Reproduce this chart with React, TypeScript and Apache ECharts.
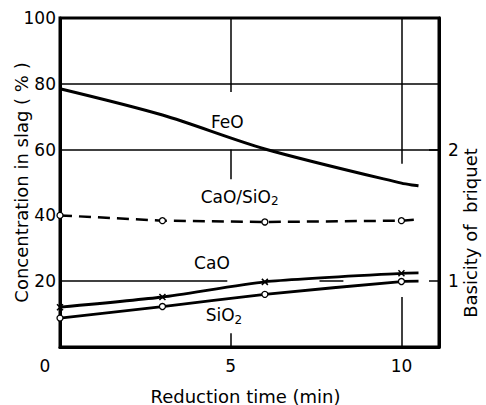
import React, { useEffect, useRef } from "react";
import * as echarts from "echarts";

const xTicks = [5, 10];
const timePts = [0, 3, 6, 10, 10.5];
const feoVals = [78.5, 70.5, 60.2, 49.8, 49.0];
const ratioVals = [1.5, 1.46, 1.45, 1.46, 1.47];
const caoVals = [12.1, 15.2, 19.8, 22.4, 22.5];
const sio2Vals = [8.8, 12.3, 16.0, 19.9, 20.0];
const basicityLabels = [1, 2];

const FONT = "DejaVu Sans";

function pts(vals: number[], symbol: any) {
  return vals.map((v, i) =>
    i === vals.length - 1
      ? { value: [timePts[i], v], symbol: "none" }
      : { value: [timePts[i], v], symbol }
  );
}

const seg = (a: number[], b: number[]) => [{ coord: a }, { coord: b }];

export default function App() {
  const ref = useRef<HTMLDivElement>(null);
  useEffect(() => {
    document.body.style.margin = "0";
    const chart = echarts.init(ref.current!, undefined, { renderer: "svg" });
    const lbl = (coord: number[], text: string, offset: number[] = [0, 0]) => ({
      coord,
      symbol: "circle",
      symbolSize: 0,
      label: {
        show: true,
        position: "inside",
        offset,
        formatter: text,
        color: "#000",
        fontFamily: FONT,
        fontSize: 17,
        rich: {
          s: { fontSize: 12, fontFamily: FONT, color: "#000", padding: [9, 0, 0, 0] },
        },
      },
    });
    const xMark = "path://M0,0L10,10M10,0L0,10";
    chart.setOption({
      animation: false,
      grid: {
        left: 60,
        right: 47,
        top: 18,
        bottom: 58,
        outerBoundsMode: "none",
        containLabel: false,
        show: true,
        borderColor: "#000",
        borderWidth: 3,
        backgroundColor: "transparent",
      },
      graphic: [
        {
          type: "text",
          x: 470,
          y: 233,
          rotation: Math.PI / 2,
          style: {
            text: "Basicity of  briquet",
            fontFamily: FONT,
            fontSize: 18,
            fill: "#000",
            align: "center",
            verticalAlign: "middle",
          },
        },
      ],
      xAxis: {
        type: "value",
        min: 0,
        max: 11.1,
        interval: 5,
        name: "Reduction time (min)",
        nameLocation: "middle",
        nameGap: 40,
        nameMoveOverlap: false,
        nameTextStyle: { fontFamily: FONT, fontSize: 18, color: "#000", padding: [0, 8, 0, 0] },
        axisLine: { show: true, lineStyle: { color: "#000", width: 3 } },
        axisTick: { show: false },
        splitLine: { show: false },
        axisLabel: {
          color: "#000",
          fontFamily: FONT,
          fontSize: 17,
          margin: 10,
          customValues: xTicks,
          formatter: (v: number) => String(v),
        },
      },
      yAxis: [
        {
          type: "value",
          min: 0,
          max: 100,
          interval: 20,
          name: "Concentration in slag ( % )",
          nameLocation: "middle",
          nameGap: 30,
          nameMoveOverlap: false,
          nameRotate: 90,
          nameTextStyle: { fontFamily: FONT, fontSize: 18, color: "#000" },
          axisLine: { show: true, lineStyle: { color: "#000", width: 3 } },
          axisTick: { show: false },
          splitLine: { show: false },
          axisLabel: {
            color: "#000",
            fontFamily: FONT,
            fontSize: 17,
            margin: 4,
            formatter: (v: number) => (v === 0 ? "" : String(v)),
          },
        },
        {
          type: "value",
          min: 0.5,
          max: 3,
          interval: 0.5,
          position: "right",
          axisLine: { show: true, lineStyle: { color: "#000", width: 3 } },
          axisTick: {
            show: true,
            inside: true,
            length: 10,
            customValues: basicityLabels,
            lineStyle: { color: "#000", width: 1.5 },
          },
          splitLine: { show: false },
          axisLabel: {
            color: "#000",
            fontFamily: FONT,
            fontSize: 17,
            margin: 9,
            customValues: basicityLabels,
            formatter: (v: number) => String(v),
          },
        },
      ],
      series: [
        {
          type: "line",
          name: "FeO",
          smooth: 0.3,
          data: pts(feoVals, "none"),
          lineStyle: { color: "#000", width: 3 },
          itemStyle: { color: "#000" },
          markLine: {
            silent: true,
            symbol: ["none", "none"],
            label: { show: false },
            lineStyle: { color: "#000", width: 1.5, type: "solid" },
            data: [
              seg([0, 80], [11.1, 80]),
              seg([0, 60], [11.1, 60]),
              seg([0, 20], [4.9, 20]),
              seg([7.6, 20], [8.3, 20]),
              seg([5, 100], [5, 77.5]),
              seg([5, 60], [5, 51]),
              seg([5, 0], [5, 4.2]),
              seg([10, 100], [10, 55.7]),
              seg([10, 0], [10, 15.2]),
            ],
          },
          markPoint: {
            silent: true,
            data: [lbl([4.9, 68.5], "FeO"), lbl([0, 0], "0", [-15, 19])],
          },
        },
        {
          type: "line",
          name: "CaO/SiO2",
          yAxisIndex: 1,
          data: pts(ratioVals, "circle"),
          symbolSize: 6,
          lineStyle: { color: "#000", width: 2.5, type: [12, 7] },
          itemStyle: { color: "#fff", borderColor: "#000", borderWidth: 1.3 },
          markPoint: { silent: true, data: [lbl([5.26, 1.64], "CaO/SiO{s|2}")] },
        },
        {
          type: "line",
          name: "CaO",
          smooth: 0.2,
          data: pts(caoVals, xMark),
          symbolSize: 6,
          lineStyle: { color: "#000", width: 2.8 },
          itemStyle: { color: "none", borderColor: "#000", borderWidth: 1.5 },
          markPoint: { silent: true, data: [lbl([4.45, 25.5], "CaO")] },
        },
        {
          type: "line",
          name: "SiO2",
          smooth: 0.2,
          data: pts(sio2Vals, "circle"),
          symbolSize: 6,
          lineStyle: { color: "#000", width: 2.8 },
          itemStyle: { color: "#fff", borderColor: "#000", borderWidth: 1.3 },
          markPoint: { silent: true, data: [lbl([4.8, 9.6], "SiO{s|2}")] },
        },
      ],
    });
    return () => chart.dispose();
  }, []);
  return <div ref={ref} style={{ width: 486, height: 405 }} />;
}
